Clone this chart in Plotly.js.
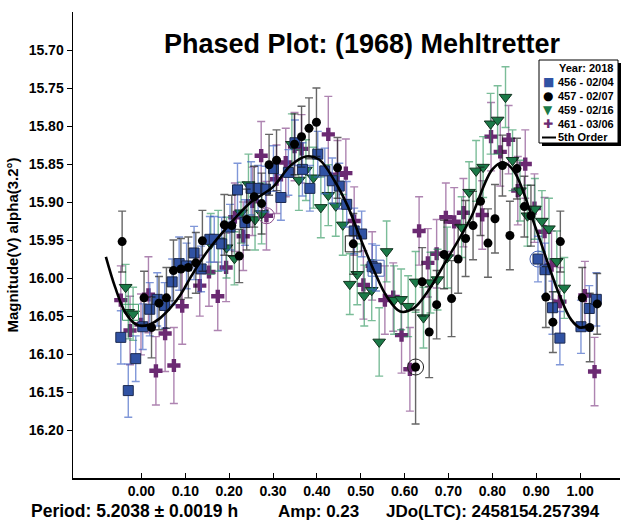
<!DOCTYPE html>
<html>
<head>
<meta charset="utf-8">
<script src="https://cdn.plot.ly/plotly-3.0.1.min.js"></script>
<style>html,body{margin:0;padding:0;background:#fff;}#chart{width:623px;height:520px;}</style>
</head>
<body>
<div id="chart"></div>
<script>
// ---- Session 456 - 02/04 (blue squares)
const phase456 = [-0.047,-0.030,-0.013,0.003,0.019,0.036,0.053,0.070,0.086,0.103,0.120,0.136,0.156,0.166,0.183,0.202,0.219,0.236,0.250,0.266,0.283,0.301,0.318,0.335,0.350,0.367,0.384,0.402,0.418,0.435,0.451,0.468,0.485,0.502,0.526,0.535,0.904,0.920,0.937,0.954,1.002,1.021,1.037];
const mag456   = [16.078,16.148,16.106,16.064,16.041,16.028,16.036,16.005,15.981,15.984,15.967,15.988,15.949,15.949,15.955,15.933,15.884,15.927,15.882,15.882,15.883,15.856,15.894,15.861,15.822,15.857,15.882,15.837,15.859,15.872,15.879,15.903,15.938,15.942,15.985,15.987,15.975,15.989,16.039,16.079,16.064,16.040,16.028];
const err456   = [0.035,0.035,0.030,0.030,0.035,0.035,0.030,0.030,0.035,0.030,0.035,0.030,0.030,0.030,0.035,0.030,0.035,0.030,0.035,0.030,0.030,0.030,0.030,0.030,0.030,0.035,0.030,0.030,0.030,0.030,0.030,0.030,0.030,0.030,0.030,0.030,0.030,0.035,0.035,0.035,0.035,0.030,0.035];

// ---- Session 457 - 02/07 (black circles)
const phase457 = [-0.044,0.006,0.023,0.040,0.057,0.073,0.090,0.107,0.124,0.139,0.189,0.206,0.223,0.240,0.257,0.274,0.291,0.308,0.349,0.365,0.382,0.399,0.447,0.483,0.625,0.640,0.656,0.673,0.690,0.707,0.722,0.739,0.756,0.773,0.790,0.806,0.823,0.840,0.856,0.873,0.888,0.922,0.938,0.955,1.005,1.022,1.039];
const mag457   = [15.952,16.026,16.065,16.033,16.026,15.990,15.988,15.986,15.980,15.951,15.930,15.931,15.971,15.923,15.893,15.902,15.851,15.845,15.824,15.814,15.803,15.795,15.855,15.955,16.117,16.005,16.071,16.035,15.969,16.027,15.975,15.948,15.931,15.899,15.954,15.922,15.852,15.944,15.856,15.906,15.918,16.025,16.058,15.952,16.026,16.065,16.034];
const err457   = [0.040,0.035,0.040,0.035,0.040,0.040,0.040,0.040,0.040,0.040,0.040,0.040,0.035,0.040,0.040,0.040,0.040,0.040,0.040,0.040,0.040,0.045,0.040,0.040,0.075,0.045,0.060,0.045,0.045,0.050,0.045,0.050,0.045,0.045,0.045,0.045,0.040,0.045,0.040,0.040,0.040,0.040,0.040,0.040,0.040,0.045,0.040];

// ---- Session 459 - 02/16 (green triangles)
const phase459 = [-0.036,-0.030,-0.019,0.158,0.175,0.194,0.212,0.227,0.244,0.259,0.274,0.343,0.359,0.375,0.392,0.409,0.426,0.443,0.459,0.475,0.492,0.508,0.525,0.542,0.559,0.576,0.592,0.608,0.625,0.643,0.659,0.675,0.697,0.730,0.747,0.763,0.779,0.796,0.812,0.830,0.846,0.863,0.880,0.897,0.913,0.929,0.947,0.964];
const mag459   = [16.012,16.045,16.047,15.955,15.951,15.960,15.974,15.914,15.877,15.923,15.915,15.824,15.871,15.858,15.868,15.907,15.891,15.905,15.930,16.008,15.995,16.023,16.016,16.084,15.965,16.029,16.028,16.037,16.005,16.052,16.006,16.002,15.973,15.933,15.887,15.859,15.854,15.797,15.792,15.762,15.845,15.885,15.918,15.909,15.925,15.935,15.978,16.013];
const err459   = [0.030,0.035,0.035,0.040,0.040,0.040,0.035,0.040,0.040,0.040,0.040,0.040,0.040,0.040,0.040,0.040,0.040,0.040,0.040,0.040,0.040,0.040,0.040,0.045,0.040,0.045,0.040,0.040,0.040,0.040,0.040,0.040,0.040,0.040,0.040,0.040,0.040,0.040,0.045,0.040,0.040,0.040,0.040,0.040,0.040,0.040,0.040,0.040];

// ---- Session 461 - 03/06 (purple crosses)
const phase461 = [-0.047,-0.026,-0.001,0.016,0.033,0.054,0.074,0.093,0.133,0.154,0.174,0.193,0.213,0.232,0.253,0.273,0.285,0.308,0.329,0.349,0.365,0.426,0.447,0.466,0.485,0.506,0.526,0.555,0.574,0.593,0.612,0.633,0.653,0.673,0.694,0.713,0.734,0.777,0.797,0.818,0.837,0.858,0.875,0.896,0.919,0.935,0.954,1.011,1.033];
const mag461   = [16.029,16.069,16.061,16.022,16.122,16.073,16.115,16.037,16.010,15.992,16.024,15.986,15.920,15.945,15.899,15.839,15.918,15.870,15.848,15.827,15.830,15.811,15.864,15.862,15.925,16.009,15.984,16.029,16.025,16.075,16.120,15.938,15.980,15.968,15.920,15.926,15.914,15.917,15.814,15.834,15.818,15.885,15.850,15.908,15.939,15.983,16.031,16.023,16.123];
const err461   = [0.045,0.045,0.040,0.050,0.045,0.050,0.050,0.050,0.040,0.045,0.045,0.045,0.045,0.045,0.045,0.045,0.045,0.045,0.045,0.045,0.045,0.050,0.045,0.045,0.045,0.045,0.045,0.045,0.045,0.050,0.055,0.045,0.045,0.045,0.045,0.045,0.045,0.045,0.045,0.045,0.045,0.045,0.045,0.045,0.045,0.045,0.045,0.045,0.045];

// ---- Highlighted (ringed) points
const ringPhase  = [0.625, 0.483, 0.535, 0.904, 0.285, -0.025];
const ringMag    = [16.117, 15.955, 15.987, 15.975, 15.918, 16.045];
const ringSymbol = ['circle-open','square-open','square-open','circle-open','circle-open','square-open'];
const ringColor  = ['#222222','#222222','#4a66b8','#4a66b8','#8a4a8a','#3a9a66'];

// ---- 5th order Fourier fit
const fitPhase = [-0.081,-0.060,-0.038,-0.015,0.000,0.019,0.042,0.065,0.088,0.111,0.150,0.200,0.250,0.300,0.340,0.375,0.405,0.440,0.470,0.500,0.530,0.560,0.590,0.620,0.650,0.700,0.750,0.800,0.825,0.850,0.900,0.950,0.980,1.000,1.020];
const fitMag   = [15.972,16.012,16.044,16.060,16.063,16.061,16.053,16.040,16.023,16.000,15.965,15.930,15.900,15.880,15.852,15.840,15.844,15.872,15.905,15.949,15.990,16.025,16.044,16.040,16.020,15.972,15.922,15.857,15.848,15.860,15.936,16.018,16.055,16.065,16.062];

const xTicks = [0.0,0.1,0.2,0.3,0.4,0.5,0.6,0.7,0.8,0.9,1.0];
const yTicks = [15.70,15.75,15.80,15.85,15.90,15.95,16.00,16.05,16.10,16.15,16.20];

const legendRows = [
  {glyph:'■', color:'#3052a3', label:'456 - 02/04'},
  {glyph:'●', color:'#000000', label:'457 - 02/07'},
  {glyph:'▼', color:'#1b7a48', label:'459 - 02/16'},
  {glyph:'✚', color:'#6b2a72', label:'461 - 03/06'}
];

const FONT = 'Liberation Sans, Arial, Helvetica, sans-serif';

function errTrace(x, y, e, color, symbol, size, mcolor, mline) {
  return {
    type: 'scatter', mode: 'markers', x: x, y: y, showlegend: false,
    error_y: {type: 'data', array: e, visible: true, color: color, thickness: 1.4, width: 4},
    marker: {symbol: symbol, size: size, color: mcolor, line: mline},
    hoverinfo: 'x+y'
  };
}

const traces = [
  errTrace(phase461, mag461, err461, 'rgba(120,50,125,0.6)', 'cross', 11, '#6b2a72', {width: 0}),
  errTrace(phase459, mag459, err459, 'rgba(35,145,85,0.6)', 'triangle-down', 11, '#1b7a48', {width: 1, color: '#12331f'}),
  errTrace(phase456, mag456, err456, 'rgba(60,95,195,0.65)', 'square', 10, '#3052a3', {width: 1, color: '#1c2a50'}),
  errTrace(phase457, mag457, err457, 'rgba(20,20,20,0.65)', 'circle', 9, '#000000', {width: 0}),
  {type:'scatter', mode:'markers', x: ringPhase, y: ringMag, showlegend:false, hoverinfo:'skip',
   marker:{symbol: ringSymbol, size: 16, color: ringColor, line:{width:1, color: ringColor}}},
  {type:'scatter', mode:'lines', x: fitPhase, y: fitMag, showlegend:false,
   line:{color:'#000000', width:2.6, shape:'spline', smoothing:1}}
];

// plot-area pixel geometry: left 73, right 620, top 12, bottom 478
const L=73, R=620, T=12, B=478;
const px = x => (x - L) / (R - L);
const py = y => (B - y) / (B - T);

const annotations = [
  {xref:'paper', yref:'paper', x: px(29), y: py(511), xanchor:'left', yanchor:'middle', showarrow:false,
   text:'Period: 5.2038 ± 0.0019 h', font:{family:FONT, size:17.5, weight:'bold', color:'#000'}},
  {xref:'paper', yref:'paper', x: px(276), y: py(511), xanchor:'left', yanchor:'middle', showarrow:false,
   text:'Amp: 0.23', font:{family:FONT, size:17, weight:'bold', color:'#000'}},
  {xref:'paper', yref:'paper', x: px(384), y: py(511), xanchor:'left', yanchor:'middle', showarrow:false,
   text:'JDo(LTC): 2458154.257394', font:{family:FONT, size:17, weight:'bold', color:'#000'}},
  {xref:'paper', yref:'paper', x: px(615), y: py(67.5), xanchor:'right', yanchor:'middle', showarrow:false,
   text:'Year: 2018', font:{family:FONT, size:11, weight:'bold', color:'#000'}}
];
const rowY = [82.3, 96, 110, 123.5];
legendRows.forEach((r, i) => {
  annotations.push({xref:'paper', yref:'paper', x: px(548), y: py(rowY[i]), xanchor:'center', yanchor:'middle', showarrow:false,
    text: r.glyph, font:{family:'DejaVu Sans', size: 12, color: r.color}});
  annotations.push({xref:'paper', yref:'paper', x: px(556), y: py(rowY[i]), xanchor:'left', yanchor:'middle', showarrow:false,
    text: r.label, font:{family:FONT, size:11, weight:'bold', color:'#000'}});
});
annotations.push({xref:'paper', yref:'paper', x: px(556), y: py(137.5), xanchor:'left', yanchor:'middle', showarrow:false,
  text:'5th Order', font:{family:FONT, size:11, weight:'bold', color:'#000'}});

const shapes = [
  {type:'rect', xref:'paper', yref:'paper', x0: px(542), x1: px(621), y0: py(63), y1: py(146), fillcolor:'#000', line:{width:0}},
  {type:'rect', xref:'paper', yref:'paper', x0: px(539), x1: px(618), y0: py(60), y1: py(143), fillcolor:'#fff', line:{width:1, color:'#000'}},
  {type:'line', xref:'paper', yref:'paper', x0: px(542), x1: px(556), y0: py(137.5), y1: py(137.5), line:{width:2, color:'#000'}}
];

const layout = {
  width: 623, height: 520,
  margin: {l: L, r: 623 - R, t: T, b: 520 - B, pad: 0},
  paper_bgcolor: '#fff', plot_bgcolor: '#fff',
  showlegend: false,
  title: {text: 'Phased Plot: (1968) Mehltretter', x: 362/623, xanchor: 'center', y: 1 - 44/520, yanchor: 'middle', yref: 'container',
          font: {family: FONT, size: 27, weight: 'bold', color: '#000'}},
  xaxis: {range: [-0.156, 1.091], tickvals: xTicks, tickformat: '.2f', ticks: 'inside', ticklen: 5, tickcolor: '#000',
          showgrid: false, zeroline: false, showline: true, linecolor: '#000', linewidth: 1.5,
          tickfont: {family: FONT, size: 14, weight: 'bold', color: '#000'}},
  yaxis: {range: [16.263, 15.650], tickvals: yTicks, tickformat: '.2f', ticks: 'outside', ticklen: 5, tickcolor: '#000',
          showgrid: false, zeroline: false, showline: true, linecolor: '#000', linewidth: 1.5,
          tickfont: {family: FONT, size: 14, weight: 'bold', color: '#000'},
          title: {text: 'Magnitude(V) alpha(3.2°)', standoff: 6, font: {family: FONT, size: 15, weight: 'bold', color: '#000'}}},
  annotations: annotations,
  shapes: shapes
};

Plotly.newPlot('chart', traces, layout, {displayModeBar: false, staticPlot: true});
</script>
</body>
</html>
